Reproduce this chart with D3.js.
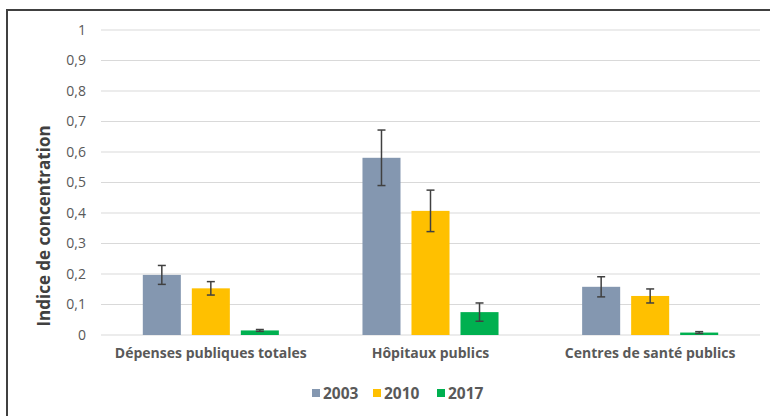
<!DOCTYPE html>
<html><head><meta charset="utf-8">
<script src="https://cdn.jsdelivr.net/npm/d3@7"></script>
<style>body{margin:0;background:#fff}svg{display:block}</style>
</head><body>
<svg id="c" width="770" height="416"></svg>
<script>
const categories = ["Dépenses publiques totales", "Hôpitaux publics", "Centres de santé publics"];
const years = ["2003", "2010", "2017"];
const values2003 = [0.197, 0.581, 0.158];
const values2010 = [0.153, 0.407, 0.128];
const values2017 = [0.015, 0.075, 0.008];
const err2003 = [0.031, 0.091, 0.033];
const err2010 = [0.022, 0.068, 0.023];
const err2017 = [0.003, 0.030, 0.003];
const yTicks = [0, 0.1, 0.2, 0.3, 0.4, 0.5, 0.6, 0.7, 0.8, 0.9, 1];
const colors = ["#8497B0", "#FFC000", "#00B050"];

const seriesVals = [values2003, values2010, values2017];
const seriesErr = [err2003, err2010, err2017];
const data = [];
categories.forEach((c, i) => years.forEach((y, j) => data.push({cat: c, year: y, v: seriesVals[j][i], e: seriesErr[j][i], color: colors[j]})));

const svg = d3.select("#c");
const font = "'Open Sans', sans-serif";

// frame
svg.append("rect").attr("x", 7).attr("y", 10).attr("width", 800).attr("height", 450)
  .attr("fill", "none").attr("stroke", "#404040").attr("stroke-width", 2);

const x0 = d3.scaleBand().domain(categories).range([101, 760]).padding(0);
const x1 = d3.scaleBand().domain(years).range([0, x0.bandwidth()]).paddingInner(0.224).paddingOuter(0.853);
const y = d3.scaleLinear().domain([0, 1]).range([335, 30]);

// gridlines
svg.append("g").selectAll("line").data(yTicks).join("line")
  .attr("x1", 101).attr("x2", 760)
  .attr("y1", d => y(d)).attr("y2", d => y(d))
  .attr("stroke", "#d9d9d9").attr("stroke-width", 1.2);

// y axis labels
const fmt = d => String(d).replace(".", ",");
const yAxis = d3.axisLeft(y).tickValues(yTicks).tickFormat(fmt).tickSize(0).tickPadding(0);
const ga = svg.append("g").attr("transform", "translate(86,0)").call(yAxis);
ga.select(".domain").remove();
ga.selectAll("text").attr("font-family", font).attr("font-size", 14).attr("fill", "#595959");

// axis title
svg.append("text").attr("transform", "translate(50,226) rotate(-90)")
  .attr("text-anchor", "middle").attr("font-family", font).attr("font-weight", "bold")
  .attr("font-size", 17).attr("fill", "#404040").text("Indice de concentration");

// bars
svg.append("g").selectAll("rect").data(data).join("rect")
  .attr("x", d => x0(d.cat) + x1(d.year)).attr("width", x1.bandwidth())
  .attr("y", d => y(d.v)).attr("height", d => y(0) - y(d.v))
  .attr("fill", d => d.color);

// error bars
const eg = svg.append("g").attr("stroke", "#404040").attr("stroke-width", 1.5);
data.forEach(d => {
  const cx = x0(d.cat) + x1(d.year) + x1.bandwidth() / 2;
  eg.append("line").attr("x1", cx).attr("x2", cx).attr("y1", y(d.v + d.e)).attr("y2", y(d.v - d.e));
  eg.append("line").attr("x1", cx - 4).attr("x2", cx + 4).attr("y1", y(d.v + d.e)).attr("y2", y(d.v + d.e));
  eg.append("line").attr("x1", cx - 4).attr("x2", cx + 4).attr("y1", y(d.v - d.e)).attr("y2", y(d.v - d.e));
});

// category labels
const xAxis = d3.axisBottom(x0).tickSize(0).tickPadding(0);
const gx = svg.append("g").attr("transform", "translate(0,348)").call(xAxis);
gx.select(".domain").remove();
gx.selectAll("text").attr("font-family", font).attr("font-weight", "bold").attr("font-size", 14).attr("fill", "#595959");

// legend
const legX = [312, 373, 437];
const lg = svg.append("g");
years.forEach((yr, j) => {
  lg.append("rect").attr("x", legX[j]).attr("y", 389).attr("width", 8).attr("height", 8).attr("fill", colors[j]);
  lg.append("text").attr("x", legX[j] + 11).attr("y", 398.5).attr("font-family", font).attr("font-weight", "bold")
    .attr("font-size", 15.5).attr("fill", "#595959").text(yr);
});
</script>
</body></html>
